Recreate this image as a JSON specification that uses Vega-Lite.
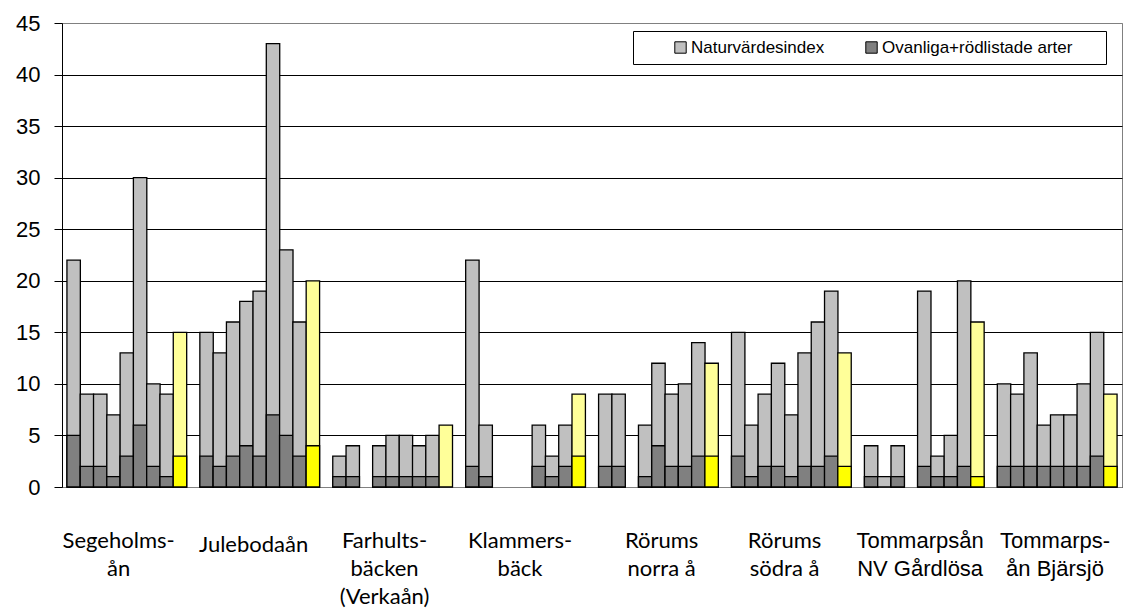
{
  "$schema": "https://vega.github.io/schema/vega-lite/v6.json",
  "width": 1060,
  "height": 464,
  "autosize": {"type": "none"},
  "padding": {"left": 62, "top": 23, "right": 3, "bottom": 128},
  "background": "#ffffff",
  "config": {
    "view": {"stroke": "#808080", "strokeWidth": 1},
    "axis": {"labelFont": "Liberation Sans", "labelColor": "#000"}
  },
  "data": {
    "values": [
      {"plats": 1, "vattendrag": "Segeholmsån", "typ": "lokal", "Naturvärdesindex": 22, "Ovanliga+rödlistade arter": 5},
      {"plats": 2, "vattendrag": "Segeholmsån", "typ": "lokal", "Naturvärdesindex": 9, "Ovanliga+rödlistade arter": 2},
      {"plats": 3, "vattendrag": "Segeholmsån", "typ": "lokal", "Naturvärdesindex": 9, "Ovanliga+rödlistade arter": 2},
      {"plats": 4, "vattendrag": "Segeholmsån", "typ": "lokal", "Naturvärdesindex": 7, "Ovanliga+rödlistade arter": 1},
      {"plats": 5, "vattendrag": "Segeholmsån", "typ": "lokal", "Naturvärdesindex": 13, "Ovanliga+rödlistade arter": 3},
      {"plats": 6, "vattendrag": "Segeholmsån", "typ": "lokal", "Naturvärdesindex": 30, "Ovanliga+rödlistade arter": 6},
      {"plats": 7, "vattendrag": "Segeholmsån", "typ": "lokal", "Naturvärdesindex": 10, "Ovanliga+rödlistade arter": 2},
      {"plats": 8, "vattendrag": "Segeholmsån", "typ": "lokal", "Naturvärdesindex": 9, "Ovanliga+rödlistade arter": 1},
      {"plats": 9, "vattendrag": "Segeholmsån", "typ": "medel", "Naturvärdesindex": 15, "Ovanliga+rödlistade arter": 3},
      {"plats": 11, "vattendrag": "Julebodaån", "typ": "lokal", "Naturvärdesindex": 15, "Ovanliga+rödlistade arter": 3},
      {"plats": 12, "vattendrag": "Julebodaån", "typ": "lokal", "Naturvärdesindex": 13, "Ovanliga+rödlistade arter": 2},
      {"plats": 13, "vattendrag": "Julebodaån", "typ": "lokal", "Naturvärdesindex": 16, "Ovanliga+rödlistade arter": 3},
      {"plats": 14, "vattendrag": "Julebodaån", "typ": "lokal", "Naturvärdesindex": 18, "Ovanliga+rödlistade arter": 4},
      {"plats": 15, "vattendrag": "Julebodaån", "typ": "lokal", "Naturvärdesindex": 19, "Ovanliga+rödlistade arter": 3},
      {"plats": 16, "vattendrag": "Julebodaån", "typ": "lokal", "Naturvärdesindex": 43, "Ovanliga+rödlistade arter": 7},
      {"plats": 17, "vattendrag": "Julebodaån", "typ": "lokal", "Naturvärdesindex": 23, "Ovanliga+rödlistade arter": 5},
      {"plats": 18, "vattendrag": "Julebodaån", "typ": "lokal", "Naturvärdesindex": 16, "Ovanliga+rödlistade arter": 3},
      {"plats": 19, "vattendrag": "Julebodaån", "typ": "medel", "Naturvärdesindex": 20, "Ovanliga+rödlistade arter": 4},
      {"plats": 21, "vattendrag": "Farhultsbäcken (Verkaån)", "typ": "lokal", "Naturvärdesindex": 3, "Ovanliga+rödlistade arter": 1},
      {"plats": 22, "vattendrag": "Farhultsbäcken (Verkaån)", "typ": "lokal", "Naturvärdesindex": 4, "Ovanliga+rödlistade arter": 1},
      {"plats": 24, "vattendrag": "Farhultsbäcken (Verkaån)", "typ": "lokal", "Naturvärdesindex": 4, "Ovanliga+rödlistade arter": 1},
      {"plats": 25, "vattendrag": "Farhultsbäcken (Verkaån)", "typ": "lokal", "Naturvärdesindex": 5, "Ovanliga+rödlistade arter": 1},
      {"plats": 26, "vattendrag": "Farhultsbäcken (Verkaån)", "typ": "lokal", "Naturvärdesindex": 5, "Ovanliga+rödlistade arter": 1},
      {"plats": 27, "vattendrag": "Farhultsbäcken (Verkaån)", "typ": "lokal", "Naturvärdesindex": 4, "Ovanliga+rödlistade arter": 1},
      {"plats": 28, "vattendrag": "Farhultsbäcken (Verkaån)", "typ": "lokal", "Naturvärdesindex": 5, "Ovanliga+rödlistade arter": 1},
      {"plats": 29, "vattendrag": "Farhultsbäcken (Verkaån)", "typ": "medel", "Naturvärdesindex": 6, "Ovanliga+rödlistade arter": 0},
      {"plats": 31, "vattendrag": "Klammersbäck", "typ": "lokal", "Naturvärdesindex": 22, "Ovanliga+rödlistade arter": 2},
      {"plats": 32, "vattendrag": "Klammersbäck", "typ": "lokal", "Naturvärdesindex": 6, "Ovanliga+rödlistade arter": 1},
      {"plats": 36, "vattendrag": "Klammersbäck", "typ": "lokal", "Naturvärdesindex": 6, "Ovanliga+rödlistade arter": 2},
      {"plats": 37, "vattendrag": "Klammersbäck", "typ": "lokal", "Naturvärdesindex": 3, "Ovanliga+rödlistade arter": 1},
      {"plats": 38, "vattendrag": "Klammersbäck", "typ": "lokal", "Naturvärdesindex": 6, "Ovanliga+rödlistade arter": 2},
      {"plats": 39, "vattendrag": "Klammersbäck", "typ": "medel", "Naturvärdesindex": 9, "Ovanliga+rödlistade arter": 3},
      {"plats": 41, "vattendrag": "Rörums norra å", "typ": "lokal", "Naturvärdesindex": 9, "Ovanliga+rödlistade arter": 2},
      {"plats": 42, "vattendrag": "Rörums norra å", "typ": "lokal", "Naturvärdesindex": 9, "Ovanliga+rödlistade arter": 2},
      {"plats": 44, "vattendrag": "Rörums norra å", "typ": "lokal", "Naturvärdesindex": 6, "Ovanliga+rödlistade arter": 1},
      {"plats": 45, "vattendrag": "Rörums norra å", "typ": "lokal", "Naturvärdesindex": 12, "Ovanliga+rödlistade arter": 4},
      {"plats": 46, "vattendrag": "Rörums norra å", "typ": "lokal", "Naturvärdesindex": 9, "Ovanliga+rödlistade arter": 2},
      {"plats": 47, "vattendrag": "Rörums norra å", "typ": "lokal", "Naturvärdesindex": 10, "Ovanliga+rödlistade arter": 2},
      {"plats": 48, "vattendrag": "Rörums norra å", "typ": "lokal", "Naturvärdesindex": 14, "Ovanliga+rödlistade arter": 3},
      {"plats": 49, "vattendrag": "Rörums norra å", "typ": "medel", "Naturvärdesindex": 12, "Ovanliga+rödlistade arter": 3},
      {"plats": 51, "vattendrag": "Rörums södra å", "typ": "lokal", "Naturvärdesindex": 15, "Ovanliga+rödlistade arter": 3},
      {"plats": 52, "vattendrag": "Rörums södra å", "typ": "lokal", "Naturvärdesindex": 6, "Ovanliga+rödlistade arter": 1},
      {"plats": 53, "vattendrag": "Rörums södra å", "typ": "lokal", "Naturvärdesindex": 9, "Ovanliga+rödlistade arter": 2},
      {"plats": 54, "vattendrag": "Rörums södra å", "typ": "lokal", "Naturvärdesindex": 12, "Ovanliga+rödlistade arter": 2},
      {"plats": 55, "vattendrag": "Rörums södra å", "typ": "lokal", "Naturvärdesindex": 7, "Ovanliga+rödlistade arter": 1},
      {"plats": 56, "vattendrag": "Rörums södra å", "typ": "lokal", "Naturvärdesindex": 13, "Ovanliga+rödlistade arter": 2},
      {"plats": 57, "vattendrag": "Rörums södra å", "typ": "lokal", "Naturvärdesindex": 16, "Ovanliga+rödlistade arter": 2},
      {"plats": 58, "vattendrag": "Rörums södra å", "typ": "lokal", "Naturvärdesindex": 19, "Ovanliga+rödlistade arter": 3},
      {"plats": 59, "vattendrag": "Rörums södra å", "typ": "medel", "Naturvärdesindex": 13, "Ovanliga+rödlistade arter": 2},
      {"plats": 61, "vattendrag": "Tommarpsån NV Gårdlösa", "typ": "lokal", "Naturvärdesindex": 4, "Ovanliga+rödlistade arter": 1},
      {"plats": 62, "vattendrag": "Tommarpsån NV Gårdlösa", "typ": "lokal", "Naturvärdesindex": 1, "Ovanliga+rödlistade arter": 0},
      {"plats": 63, "vattendrag": "Tommarpsån NV Gårdlösa", "typ": "lokal", "Naturvärdesindex": 4, "Ovanliga+rödlistade arter": 1},
      {"plats": 65, "vattendrag": "Tommarpsån NV Gårdlösa", "typ": "lokal", "Naturvärdesindex": 19, "Ovanliga+rödlistade arter": 2},
      {"plats": 66, "vattendrag": "Tommarpsån NV Gårdlösa", "typ": "lokal", "Naturvärdesindex": 3, "Ovanliga+rödlistade arter": 1},
      {"plats": 67, "vattendrag": "Tommarpsån NV Gårdlösa", "typ": "lokal", "Naturvärdesindex": 5, "Ovanliga+rödlistade arter": 1},
      {"plats": 68, "vattendrag": "Tommarpsån NV Gårdlösa", "typ": "lokal", "Naturvärdesindex": 20, "Ovanliga+rödlistade arter": 2},
      {"plats": 69, "vattendrag": "Tommarpsån NV Gårdlösa", "typ": "medel", "Naturvärdesindex": 16, "Ovanliga+rödlistade arter": 1},
      {"plats": 71, "vattendrag": "Tommarpsån Bjärsjö", "typ": "lokal", "Naturvärdesindex": 10, "Ovanliga+rödlistade arter": 2},
      {"plats": 72, "vattendrag": "Tommarpsån Bjärsjö", "typ": "lokal", "Naturvärdesindex": 9, "Ovanliga+rödlistade arter": 2},
      {"plats": 73, "vattendrag": "Tommarpsån Bjärsjö", "typ": "lokal", "Naturvärdesindex": 13, "Ovanliga+rödlistade arter": 2},
      {"plats": 74, "vattendrag": "Tommarpsån Bjärsjö", "typ": "lokal", "Naturvärdesindex": 6, "Ovanliga+rödlistade arter": 2},
      {"plats": 75, "vattendrag": "Tommarpsån Bjärsjö", "typ": "lokal", "Naturvärdesindex": 7, "Ovanliga+rödlistade arter": 2},
      {"plats": 76, "vattendrag": "Tommarpsån Bjärsjö", "typ": "lokal", "Naturvärdesindex": 7, "Ovanliga+rödlistade arter": 2},
      {"plats": 77, "vattendrag": "Tommarpsån Bjärsjö", "typ": "lokal", "Naturvärdesindex": 10, "Ovanliga+rödlistade arter": 2},
      {"plats": 78, "vattendrag": "Tommarpsån Bjärsjö", "typ": "lokal", "Naturvärdesindex": 15, "Ovanliga+rödlistade arter": 3},
      {"plats": 79, "vattendrag": "Tommarpsån Bjärsjö", "typ": "medel", "Naturvärdesindex": 9, "Ovanliga+rödlistade arter": 2}
    ]
  },
  "transform": [
    {"fold": ["Naturvärdesindex", "Ovanliga+rödlistade arter"], "as": ["serie", "värde"]},
    {"filter": "datum['värde'] > 0"}
  ],
  "encoding": {
    "x": {
      "field": "plats",
      "type": "quantitative",
      "scale": {"domain": [0.5, 79.5], "nice": false, "zero": false},
      "axis": {
        "title": null,
        "values": [4.35, 14.5, 24.35, 34.55, 45.2, 54.45, 64.65, 74.8],
        "labelExpr": "split(['Segeholms-|ån','Julebodaån','Farhults-|bäcken|(Verkaån)','Klammers-|bäck','Rörums|norra å','Rörums|södra å','Tommarpsån|NV Gårdlösa','Tommarps-|ån Bjärsjö'][floor(datum.value / 10)], '|')",
        "ticks": false,
        "grid": false,
        "domainColor": "#808080",
        "domainWidth": 1,
        "labelFont": {"condition": {"test": "datum.value > 60", "value": "Liberation Sans"}, "value": "Lato"},
        "labelFontSize": 22,
        "labelLineHeight": 28,
        "labelPadding": {"condition": {"test": "datum.value > 14 && datum.value < 15", "value": 47}, "value": 43},
        "labelOverlap": false,
        "labelFlush": false,
        "labelBound": false,
        "labelBaseline": "top"
      }
    },
    "y": {
      "field": "värde",
      "type": "quantitative",
      "stack": null,
      "scale": {"domain": [0, 45], "nice": false},
      "axis": {
        "title": null,
        "values": [0, 5, 10, 15, 20, 25, 30, 35, 40, 45],
        "grid": true,
        "gridColor": {"condition": {"test": "datum.value == 45", "value": "#808080"}, "value": "#000000"},
        "gridWidth": 1,
        "gridOpacity": 1,
        "domainColor": "#000000",
        "tickColor": "#000000",
        "tickSize": 8,
        "labelFont": "Liberation Sans",
        "labelFontSize": 22,
        "labelPadding": 14
      }
    }
  },
  "layer": [
    {
      "transform": [{"filter": "datum.typ == 'lokal'"}],
      "mark": {"type": "bar", "width": {"expr": "width / 79"}, "stroke": "#000000", "strokeWidth": 1.3, "opacity": 1},
      "encoding": {
        "color": {
          "field": "serie",
          "type": "nominal",
          "scale": {"domain": ["Naturvärdesindex", "Ovanliga+rödlistade arter"], "range": ["#c0c0c0", "#808080"]},
          "legend": {
            "title": "\u00a0",
            "titleOrient": "right",
            "titleFontSize": 17,
            "titlePadding": 26,
            "orient": "none",
            "legendX": 571,
            "legendY": 8,
            "direction": "horizontal",
            "gridAlign": "none",
            "strokeColor": "#000000",
            "fillColor": "#ffffff",
            "padding": 8,
            "symbolType": "square",
            "symbolSize": 130,
            "symbolStrokeColor": "#000000",
            "symbolStrokeWidth": 1,
            "symbolOffset": 31,
            "labelFont": "Liberation Sans",
            "labelFontSize": 17,
            "labelColor": "#000000",
            "labelOffset": 2,
            "labelLimit": 300,
            "columnPadding": 7
          }
        }
      }
    },
    {
      "transform": [{"filter": "datum.typ == 'medel'"}],
      "mark": {"type": "bar", "width": {"expr": "width / 79"}, "stroke": "#000000", "strokeWidth": 1.3, "opacity": 1},
      "encoding": {
        "color": {
          "field": "serie",
          "type": "nominal",
          "scale": {"domain": ["Naturvärdesindex", "Ovanliga+rödlistade arter"], "range": ["#ffff99", "#ffff00"]},
          "legend": null
        }
      }
    }
  ],
  "resolve": {"scale": {"color": "independent"}}
}
